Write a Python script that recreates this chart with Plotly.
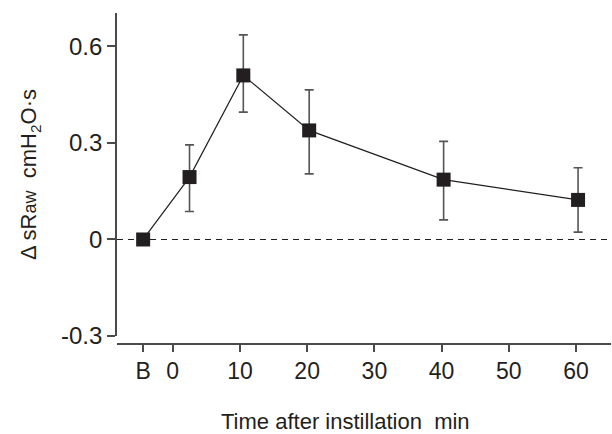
import plotly.graph_objects as go

# ---- data ----
labels = ["B", "3", "10", "20", "40", "60"]
times = [2.5, 10.5, 20.3, 40.3, 60.3]          # minutes after instillation
b_value = 0.0
values = [0.194, 0.51, 0.339, 0.186, 0.123]
err_up = [0.100, 0.126, 0.126, 0.119, 0.100]
err_down = [0.107, 0.114, 0.135, 0.125, 0.100]
tick_vals = [0, 10, 20, 30, 40, 50, 60]
tick_text = ["0", "10", "20", "30", "40", "50", "60"]
y_ticks = [-0.3, 0, 0.3, 0.6]
y_tick_text = ["-0.3", "0", "0.3", "0.6"]
x_title = "Time after instillation  min"

B_POS = -4.4
x = [B_POS] + times
y = [b_value] + values
eu = [0] + err_up
ed = [0] + err_down

FONT = "Liberation Sans, Arial, sans-serif"
TXT = "#231f20"
AX = "#4a4a4a"

fig = go.Figure()
fig.add_trace(go.Scatter(
    x=x, y=y, mode="lines+markers",
    line=dict(color="#231f20", width=1.2),
    marker=dict(symbol="square", size=14, color="#231f20"),
    error_y=dict(type="data", symmetric=False, array=eu, arrayminus=ed,
                 color="#555555", thickness=1.6, width=4.5),
    showlegend=False,
))
fig.add_hline(y=0, line=dict(color="#231f20", width=1.2, dash="6px,5px"), layer="below")

fig.add_annotation(
    text=x_title, xref="paper", yref="paper", x=0.462, y=-0.233,
    xanchor="center", yanchor="middle", showarrow=False,
    font=dict(size=22, family=FONT, color=TXT),
)

fig.update_layout(
    width=612, height=434,
    margin=dict(l=117, r=1, t=13, b=90),
    paper_bgcolor="white", plot_bgcolor="white",
    font=dict(family=FONT, color=TXT, size=22),
    xaxis=dict(
        range=[-8.29, 65.2],
        tickvals=[B_POS] + tick_vals, ticktext=["B"] + tick_text,
        showline=True, linecolor=AX, linewidth=1.6,
        ticks="outside", ticklen=7, tickwidth=1.6, tickcolor=AX,
        showgrid=False, zeroline=False,
        anchor="free", position=0,
        tickfont=dict(size=23, family=FONT, color=TXT),
    ),
    yaxis=dict(
        range=[-0.3, 0.704], domain=[0.0242, 1],
        tickvals=y_ticks, ticktext=y_tick_text,
        showline=True, linecolor=AX, linewidth=1.6,
        ticks="outside", ticklen=8, tickwidth=1.6, tickcolor=AX,
        showgrid=False, zeroline=False,
        tickfont=dict(size=24, family=FONT, color=TXT),
        title=dict(text="Δ sR<span style='font-size:18px'>aw</span>  cmH<sub>2</sub>O·s",
                   font=dict(size=22, family=FONT, color=TXT), standoff=18),
    ),
)

fig.write_html("out.html")
